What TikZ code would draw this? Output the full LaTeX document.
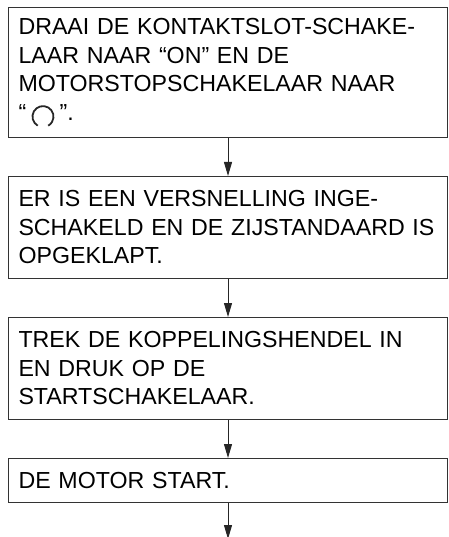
\documentclass[tikz,border=0pt]{standalone}
\usepackage{fontspec}
\setmainfont{Liberation Sans}
\usetikzlibrary{arrows.meta,positioning}

\newcommand{\runsym}{\tikz[baseline=-3.5pt]\draw[line width=1.8pt, black!85]
  (240:10.5pt) arc[start angle=240, end angle=-60, radius=10.5pt];}

\begin{document}
\begin{tikzpicture}[x=1pt, y=1pt, >={Triangle[length=14pt,width=8pt]},
    stepbox/.style={draw=black!80, line width=1pt, rectangle,
      minimum width=439pt, text width=419pt, inner xsep=10pt,
      align=left, font=\fontsize{23.2}{28.5}\selectfont},
    link/.style={->, line width=1pt, black!85}]
  \useasboundingbox (0,0) rectangle (448,-537);

  % Nodes
  \node[stepbox, minimum height=130pt, anchor=north west] (s1) at (8,-7)
    {DRAAI DE KONTAKTSLOT-SCHAKE-\\LAAR NAAR “ON” EN DE\\MOTORSTOPSCHAKELAAR NAAR\\“\,\runsym\,”.};
  \node[stepbox, minimum height=102pt, below=38pt of s1] (s2)
    {ER IS EEN VERSNELLING INGE-\\SCHAKELD EN DE ZIJSTANDAARD IS\\OPGEKLAPT.};
  \node[stepbox, minimum height=102pt, below=38pt of s2] (s3)
    {TREK DE KOPPELINGSHENDEL IN\\EN DRUK OP DE\\STARTSCHAKELAAR.};
  \node[stepbox, minimum height=44pt, below=38pt of s3] (s4)
    {DE MOTOR START.};
  \coordinate[below=36pt of s4] (end);

  % Arrows
  \draw[link] (s1) -- (s2);
  \draw[link] (s2) -- (s3);
  \draw[link] (s3) -- (s4);
  \draw[link] (s4) -- (end);
\end{tikzpicture}
\end{document}
